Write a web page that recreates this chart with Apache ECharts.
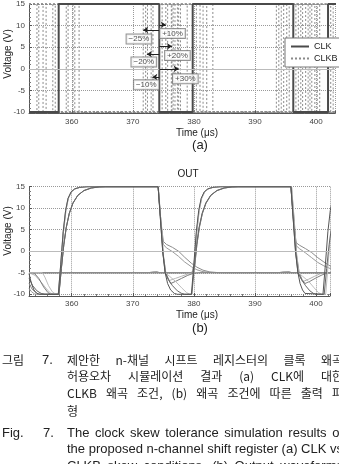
<!DOCTYPE html>
<html><head><meta charset="utf-8">
<script src="https://cdn.jsdelivr.net/npm/echarts@6/dist/echarts.min.js"></script>
<style>html,body{margin:0;padding:0;background:#fff}#c{width:339px;height:464px}</style>
</head><body><div id="c"></div>
<script>
// ---------------- DATA ----------------
// (a) CLK waveform (time us, volts)
const clkPoints = [[353,-10],[357.86,-10],[357.86,15],[374.33,15],[374.33,-10],[379.8,-10],[379.8,15],[396.27,15],[396.27,-10],[401.96,-10],[401.96,15],[404,15]];
// (a) CLKB variants: transition times, starting high (15) then alternating
const clkbHigh = 15, clkbLow = -10;
const clkbEdges = [
  [354.3, 371.7, 376.3, 393.5, 398.3],
  [354.6, 372.1, 376.6, 393.9, 398.7],
  [355.3, 372.4, 377.3, 394.3, 399.0],
  [355.8, 373.0, 377.8, 394.7, 399.3],
  [356.9, 373.3, 378.9, 395.2, 400.6],
  [359.1, 374.8, 380.4, 395.6, 402.4],
  [359.4, 375.4, 381.0, 396.7, 402.8],
  [360.2, 375.7, 381.5, 397.1],
  [360.5, 376.4, 382.1, 397.5],
  [361.2, 376.9, 383.1, 397.8],
  [357.3, 377.5, 399.8, 400.2]
];
// (a) skew annotations
const skewLabels = ['\u221225%', '+10%', '+20%', '\u221220%', '+30%', '\u221210%'];
const skewFrom = 374.33;
const skewTo = [371.7, 375.4, 376.4, 372.3, 377.5, 373.2];
const skewLevel = [9.0, 10.2, 5.2, 3.4, 0.0, -1.9];
const skewLabelAt = [[371.0, 6.9], [376.5, 8.2], [377.3, 3.1], [371.8, 1.6], [378.6, -2.3], [372.2, -3.7]];

// (b) OUT curves
const outC1 = [[353,-5.2],[353.4,-7.5],[353.8,-9],[354.3,-9.8],[354.8,-10],[357.8,-10],[358.2,-3],[358.6,4.5],[359,9.5],[359.4,12.3],[359.9,13.8],[360.5,14.5],[361.3,14.85],[362.5,15],[374.15,15],[374.5,8],[374.9,0],[375.3,-5],[375.7,-7.5],[376.2,-9],[376.8,-9.8],[377.3,-10],[379.6,-10],[380,-3],[380.4,4.5],[380.8,9.5],[381.2,12.3],[381.7,13.8],[382.3,14.5],[383.1,14.85],[384.3,15],[395.9,15],[396.25,8],[396.65,0],[397.05,-5],[397.4,-7.5],[397.8,-9],[398.2,-9.8],[398.5,-10],[401.15,-10],[401.55,-3],[401.95,4.5],[402.35,9.5],[402.75,12.3]];
const outC2 = [[353,-6.2],[353.6,-8],[354.3,-9.2],[355,-9.8],[355.6,-10],[357.9,-10],[358.3,-4],[358.7,1.5],[359.1,5.5],[359.6,8.8],[360.2,11.2],[361,13],[362,14.1],[363.2,14.7],[364.5,14.95],[365.5,15],[374.15,15],[374.5,8],[374.9,0],[375.3,-5],[375.8,-6.5],[376.5,-8],[377.3,-9.2],[378,-9.8],[378.5,-10],[379.65,-10],[380.05,-4],[380.45,1.5],[380.85,5.5],[381.35,8.8],[381.95,11.2],[382.75,13],[383.75,14.1],[384.95,14.7],[386.2,14.95],[387.2,15],[395.9,15],[396.25,8],[396.65,0],[397.05,-5],[397.6,-6.5],[398.3,-8],[399,-9.2],[399.6,-9.8],[400,-10],[401.35,-10],[401.75,-4],[402.15,1.5],[402.55,5.5],[402.9,8]];
const outC3 = [[353,-5],[355.2,-5],[355.6,-6],[356.2,-8],[356.8,-9.4],[357.4,-10],[357.85,-10],[358.25,-3],[358.65,4.5],[359.05,9.5],[359.45,12.3],[359.95,13.8],[360.55,14.5],[361.35,14.85],[362.6,15],[374.2,15],[374.55,8],[374.95,0],[375.35,-5],[376,-5.8],[377,-7],[378,-8.5],[378.8,-9.6],[379.3,-10],[379.7,-10],[380.1,-3],[380.5,4.5],[380.9,9.5],[381.3,12.3],[381.8,13.8],[382.4,14.5],[383.2,14.85],[384.4,15],[396,15],[396.35,8],[396.75,0],[397.15,-5],[397.8,-5.8],[398.8,-7],[399.7,-8.5],[400.4,-9.6],[400.9,-10],[401.6,-10],[402,-3],[402.4,4.5]];
const outT1 = [[353,-7.4],[353.5,-8.8],[354.1,-9.6],[354.6,-10],[357.8,-10],[358.2,-3],[358.6,4.5],[359,9.5],[359.4,12.3],[359.9,13.8],[360.5,14.5],[361.3,14.85],[362.5,15],[374.15,15],[374.6,7],[375,2.3],[375.5,1.6],[376.5,0.9],[377.5,0],[378.5,-1.4],[379.6,-2.8],[380.5,-3.7],[381.5,-4.4],[382.6,-4.8],[384,-4.97],[385.2,-5],[393.8,-5],[394.6,-4.8],[395.6,-4.75],[396.1,-5],[403.2,-5]];
const outT2 = [[353,-8.6],[353.4,-9.4],[353.9,-9.9],[354.3,-10],[357.9,-10],[358.3,-4],[358.7,1.5],[359.1,5.5],[359.6,8.8],[360.2,11.2],[361,13],[362,14.1],[363.2,14.7],[364.5,14.95],[365.5,15],[374.15,15],[374.6,6.5],[375,1.6],[375.5,0.8],[376.5,-0.1],[377.5,-1.2],[378.5,-2.5],[379.6,-3.6],[380.5,-4.3],[381.5,-4.75],[383,-4.97],[384,-5],[403.2,-5]];
const outV1 = [[353,-5],[354,-5.6],[355,-7.2],[356,-9],[356.6,-9.8],[357,-10],[357.85,-10],[358.25,-3],[358.65,4.5],[359.05,9.5],[359.45,12.3],[359.95,13.8],[360.55,14.5],[361.35,14.85],[362.6,15],[374.15,15],[374.6,7],[375,-1],[375.4,-5],[376,-6.8],[377,-6.3],[378,-5.8],[379,-5.3],[380,-5],[403.2,-5]];
const outV2 = [[353,-5],[353.8,-5],[354.6,-6.3],[355.4,-8.3],[356.1,-9.6],[356.5,-10],[357.9,-10],[358.3,-4],[358.7,1.5],[359.1,5.5],[359.6,8.8],[360.2,11.2],[361,13],[362,14.1],[363.2,14.7],[364.5,14.95],[365.5,15],[374.15,15],[374.6,7],[375,-1],[375.4,-5],[375.8,-6.5],[376.2,-7.5],[377,-7],[378,-6.3],[379,-5.6],[380,-5.1],[381,-5],[403.2,-5]];
const outS1 = [[353,-5],[372.5,-5],[373.3,-4.8],[374,-4.75],[374.4,-5],[379.7,-5],[380.05,-3],[380.45,4.5],[380.85,9.5],[381.25,12.3],[381.75,13.8],[382.35,14.5],[383.15,14.85],[384.4,15],[395.9,15],[396.35,7],[396.75,2.0],[397.3,1.4],[398.3,0.6],[399.3,-0.3],[400.3,-1.5],[401.3,-2.5],[402.3,-3.4],[403.2,-4]];
const outS2 = [[353,-5],[379.75,-5],[380.1,-4],[380.5,1.5],[380.9,5.5],[381.4,8.8],[382,11.2],[382.8,13],[383.8,14.1],[385,14.7],[386.3,14.95],[387.3,15],[395.9,15],[396.35,6.5],[396.75,1.3],[397.3,0.6],[398.3,-0.4],[399.3,-1.5],[400.3,-2.6],[401.3,-3.4],[402.3,-4],[403.2,-4.4]];
const outS3 = [[353,-5],[379.7,-5],[380.05,-3],[380.45,4.5],[380.85,9.5],[381.25,12.3],[381.75,13.8],[382.35,14.5],[383.15,14.85],[384.4,15],[395.9,15],[396.35,7],[396.75,-1],[397.15,-5],[397.8,-7.1],[398.8,-6.5],[399.8,-5.8],[400.6,-5.3],[401.1,-5],[403.2,-5]];
const outS4 = [[353,-5],[379.75,-5],[380.1,-4],[380.5,1.5],[380.9,5.5],[381.4,8.8],[382,11.2],[382.8,13],[383.8,14.1],[385,14.7],[386.3,14.95],[387.3,15],[396,15],[396.45,7],[396.85,-1],[397.25,-5],[397.7,-6.5],[398.2,-7.5],[399,-7],[400,-6.2],[401,-5.5],[401.8,-5.1],[402.5,-5],[403.2,-5]];

// axis extents and tick labels
const xMin = 353, xMaxA = 403.1, xMaxB = 402.3;
const yMinA = -10.35, yMinB = -10.4, yMax = 15;
const xTickLabels = [360, 370, 380, 390, 400];
const yTickLabels = [-10, -5, 0, 5, 10, 15];

// caption text
const capKoPrefix = ['그림', '7.'];
const capKo = ['제안한 n-채널 시프트 레지스터의 클록 왜곡', '허용오차 시뮬레이션 결과 (a) CLK에 대한', 'CLKB 왜곡 조건, (b) 왜곡 조건에 따른 출력 파', '형'];
const capEnPrefix = ['Fig.', '7.'];
const capEn = ['The clock skew tolerance simulation results of', 'the proposed n-channel shift register (a) CLK vs', 'CLKB skew conditions, (b) Output waveforms'];

// ---------------- BUILD ----------------
function stepLine(edges, start, other, x0, x1) {
  const pts = [[x0, start]];
  let lv = start;
  edges.forEach(e => { pts.push([e, lv]); lv = (lv === start) ? other : start; pts.push([e, lv]); });
  pts.push([x1, lv]);
  return pts;
}

const axisTxt = {fontFamily: 'Liberation Sans', fontSize: 8, color: '#444'};
function xAxisCfg(gi, max) {
  return {
    type: 'value', gridIndex: gi, min: xMin, max: max, minInterval: 10, maxInterval: 10,
    axisLine: {show: true, onZero: false, lineStyle: {color: '#555'}},
    axisTick: {show: true, inside: true, length: 3, lineStyle: {color: '#555'}},
    minorTick: {show: true, splitNumber: 5, length: 2, lineStyle: {color: '#777'}},
    axisLabel: Object.assign({margin: 4, showMinLabel: true, showMaxLabel: true,
      formatter: v => xTickLabels.indexOf(Math.round(v * 1000) / 1000) >= 0 ? String(v) : ''}, axisTxt),
    splitLine: {show: true, lineStyle: {type: 'dotted', color: '#999'}}
  };
}
function yAxisCfg(gi, min) {
  return {
    type: 'value', gridIndex: gi, min: min, max: yMax, minInterval: 5, maxInterval: 5,
    axisLine: {show: true, lineStyle: {color: '#555'}},
    axisTick: {show: true, inside: true, length: 3, lineStyle: {color: '#555'}},
    minorTick: {show: true, splitNumber: 5, length: 2, lineStyle: {color: '#777'}},
    axisLabel: Object.assign({margin: 4,
      formatter: v => yTickLabels.indexOf(Math.round(v * 1000) / 1000) >= 0 ? String(v) : ''}, axisTxt),
    splitLine: {show: true, lineStyle: {type: 'dotted', color: '#999'}}
  };
}

const series = [];
// zero lines
[0, 1].forEach(gi => series.push({
  type: 'line', xAxisIndex: gi, yAxisIndex: gi, data: [], silent: true,
  markLine: {silent: true, symbol: 'none', label: {show: false}, lineStyle: {type: 'solid', color: '#bbb', width: 1}, data: [{yAxis: 0}]}
}));
clkbEdges.forEach(ed => series.push({
  name: 'CLKB', type: 'line', xAxisIndex: 0, yAxisIndex: 0, symbol: 'none', clip: true,
  data: stepLine(ed, clkbHigh, clkbLow, xMin, 404),
  lineStyle: {type: [2, 2], color: '#8a8a8a', width: 1}, itemStyle: {color: '#8a8a8a'}, z: 2
}));
series.push({
  name: 'CLK', type: 'line', xAxisIndex: 0, yAxisIndex: 0, symbol: 'none', clip: true, data: clkPoints,
  lineStyle: {color: '#4a4a4a', width: 2}, itemStyle: {color: '#4a4a4a'}, z: 3
});
// skew arrows
series.push({
  type: 'line', xAxisIndex: 0, yAxisIndex: 0, data: [], silent: true, z: 5,
  markLine: {
    silent: true, symbol: ['none', 'arrow'], symbolSize: 5, label: {show: false},
    lineStyle: {type: 'solid', color: '#222', width: 1},
    data: skewTo.map((t, i) => [{coord: [skewFrom, skewLevel[i]]}, {coord: [t, skewLevel[i]]}])
  }
});
series.push({
  type: 'scatter', xAxisIndex: 0, yAxisIndex: 0, symbolSize: 0, z: 6, silent: true,
  data: skewLabelAt.map((p, i) => ({value: p, name: skewLabels[i]})),
  label: {show: true, position: 'inside', formatter: p => p.name, fontFamily: 'Liberation Sans', fontSize: 8, color: '#222',
    backgroundColor: '#fff', borderColor: '#777', borderWidth: 1, padding: [1, 2, 0, 2]}
});
// OUT curves
const outs = [
  [outS1, '#8c8c8c'], [outS2, '#9a9a9a'], [outS3, '#b0b0b0'], [outS4, '#808080'],
  [outT1, '#8c8c8c'], [outT2, '#9a9a9a'], [outV1, '#b5b5b5'], [outV2, '#7a7a7a'],
  [outC3, '#bdbdbd'], [outC2, '#666'], [outC1, '#555']
];
outs.forEach(o => series.push({
  type: 'line', xAxisIndex: 1, yAxisIndex: 1, symbol: 'none', clip: true, data: o[0],
  lineStyle: {color: o[1], width: 1}, z: 3
}));

// text elements
const graphic = [];
function txt(x, y, s, font, extra) {
  return Object.assign({type: 'text', x: x, y: y, silent: true,
    style: {text: s, font: font, fill: '#222', textAlign: 'center', textVerticalAlign: 'middle'}}, extra || {});
}
const fAxis = '10px "Liberation Sans"';
graphic.push(txt(197, 133, 'Time (\u03bcs)', fAxis));
graphic.push(txt(200, 145.5, '(a)', '13px "Liberation Sans"'));
graphic.push(txt(8, 54, 'Voltage (V)', fAxis, {rotation: Math.PI / 2}));
graphic.push(txt(188, 174, 'OUT', fAxis));
graphic.push(txt(197, 315, 'Time (\u03bcs)', fAxis));
graphic.push(txt(200, 328, '(b)', '13px "Liberation Sans"'));
graphic.push(txt(8, 231, 'Voltage (V)', fAxis, {rotation: Math.PI / 2}));

const ctx = document.createElement('canvas').getContext('2d');
function justify(line, fontStr, left, right, y, just) {
  const words = line.split(' ');
  ctx.font = fontStr;
  const ws = words.map(w => ctx.measureText(w).width);
  const sum = ws.reduce((a, b) => a + b, 0);
  const gap = (just && words.length > 1) ? (right - left - sum) / (words.length - 1) : ctx.measureText(' ').width;
  let x = left;
  words.forEach((w, i) => {
    graphic.push({type: 'text', x: x, y: y, silent: true, style: {text: w, font: fontStr, fill: '#222', textAlign: 'left', textVerticalAlign: 'middle'}});
    x += ws[i] + gap;
  });
}
const fKo = '12px "Noto Sans CJK KR"';
const fEn = '13px "Liberation Sans"';
const capLeft = 67, capRight = 343;
const koY = [360, 376.7, 393.3, 411];
const enY = [433, 449.8, 466.5];
graphic.push({type: 'text', x: 2, y: koY[0], silent: true, style: {text: capKoPrefix[0], font: fKo, fill: '#222', textVerticalAlign: 'middle'}});
graphic.push({type: 'text', x: 42, y: koY[0], silent: true, style: {text: capKoPrefix[1], font: fEn, fill: '#222', textVerticalAlign: 'middle'}});
capKo.forEach((l, i) => justify(l, fKo, capLeft, capRight, koY[i], i < capKo.length - 1));
graphic.push({type: 'text', x: 2, y: enY[0], silent: true, style: {text: capEnPrefix[0], font: fEn, fill: '#222', textVerticalAlign: 'middle'}});
graphic.push({type: 'text', x: 43, y: enY[0], silent: true, style: {text: capEnPrefix[1], font: fEn, fill: '#222', textVerticalAlign: 'middle'}});
capEn.forEach((l, i) => justify(l, fEn, capLeft, capRight, enY[i], true));

const chart = echarts.init(document.getElementById('c'), null, {renderer: 'canvas'});
chart.setOption({
  animation: false,
  backgroundColor: '#fff',
  grid: [
    {left: 29, top: 3.3, width: 306, height: 110.3},
    {left: 29, top: 186.7, width: 301, height: 109.3}
  ],
  xAxis: [xAxisCfg(0, xMaxA), xAxisCfg(1, xMaxB)],
  yAxis: [yAxisCfg(0, yMinA), yAxisCfg(1, yMinB)],
  legend: {
    data: ['CLK', 'CLKB'], orient: 'vertical', left: 285, top: 38, itemWidth: 18, itemHeight: 8, itemGap: 3,
    padding: [4, 5, 4, 5], backgroundColor: '#fff', borderColor: '#777', borderWidth: 1, borderRadius: 0,
    itemStyle: {opacity: 0},
    textStyle: {fontFamily: 'Liberation Sans', fontSize: 9, color: '#222', padding: [0, 0, 0, 0]}, selectedMode: false
  },
  series: series,
  graphic: graphic
});
</script></body></html>
